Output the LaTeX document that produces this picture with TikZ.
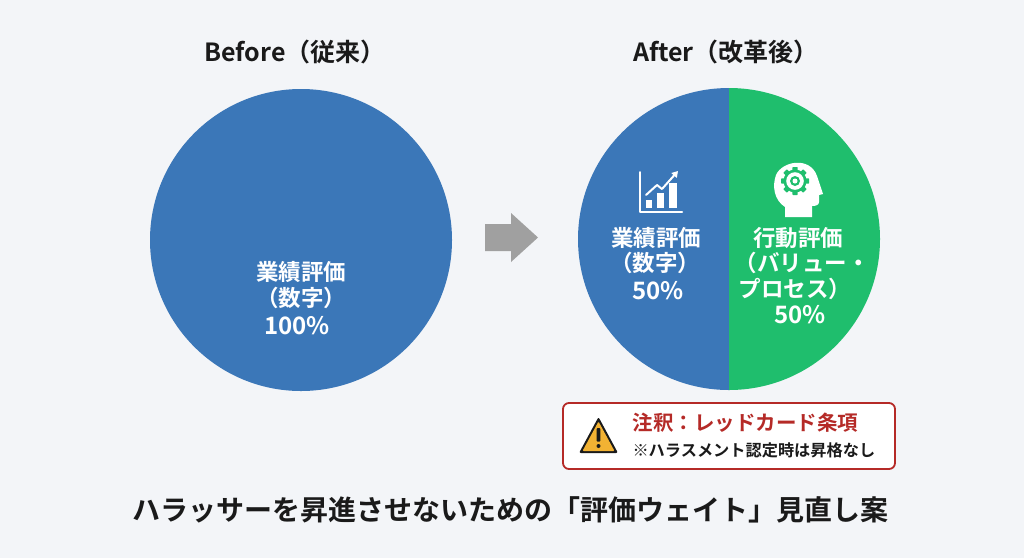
\documentclass[tikz,border=0pt]{standalone}
\usepackage{fontspec}
\setmainfont{Noto Sans CJK JP Bold}
\usetikzlibrary{arrows.meta}
\definecolor{bg}{HTML}{F3F5F8}
\definecolor{pblue}{HTML}{3B77B8}
\definecolor{pgreen}{HTML}{1FBE6D}
\definecolor{pred}{HTML}{B52A27}
\definecolor{pgray}{HTML}{A0A0A0}
\definecolor{warnyel}{HTML}{F2B233}
\definecolor{txt}{HTML}{1A1A1A}
\begin{document}
\begin{tikzpicture}[x=1pt,y=-1pt,
  title/.style={font=\fontsize{25}{29}\selectfont, text=txt},
  wtxt/.style={font=\fontsize{22.5}{26}\selectfont, text=white, align=center},
  pct/.style={font=\fontsize{24}{28}\selectfont, text=white},
  icon/.style={white, line width=2.2pt, line cap=round, line join=round}]
\useasboundingbox (0,0) rectangle (1024,558);
\fill[bg] (0,0) rectangle (1024,558);
% titles
\node[title] (tb) at (295,52) {Before（従来）};
\node[title] (ta) at (726,52) {After（改革後）};
% left circle
\fill[pblue] (301,240) circle[radius=151];
\node[wtxt] (l1) at (301,272) {業績評価};
\node[wtxt] (l2) at (301,298) {（数字）};
\node[pct] (l3) at (297,326) {100\%};
% arrow
\fill[pgray] (485,224) -- (511,224) -- (511,213) -- (538,237.5) -- (511,262) -- (511,251) -- (485,251) -- cycle;
% right circle
\begin{scope}
\clip (729,239) circle[radius=151];
\fill[pblue] (560,80) rectangle (729,400);
\fill[pgreen] (729,80) rectangle (900,400);
\end{scope}
\node[wtxt] (b1) at (656,238) {業績評価};
\node[wtxt] (b2) at (655,263) {（数字）};
\node[pct] (b3) at (658,291) {50\%};
\node[wtxt] (g1) at (798,238) {行動評価};
\node[wtxt] (g2) at (802,263) {（バリュー・};
\node[wtxt] (g3) at (795,289) {プロセス）};
\node[pct] (g4) at (800,315) {50\%};
% chart icon
\draw[icon, line width=2pt] (640,172) -- (640,212) -- (682,212);
\fill[white] (646,200) rectangle (652,208);
\fill[white] (657,193) rectangle (664,208);
\fill[white] (669,183) rectangle (677,208);
\draw[icon, line width=2pt, -{Triangle[length=6pt,width=7pt]}] (646,195) -- (657,185) -- (662,189) -- (678,171);
% head icon
\fill[white] (785,217) -- (785,207) .. controls (774,200) and (772,186) .. (776,175)
  .. controls (782,161) and (810,156) .. (817,176)
  -- (823,194) -- (819,195) -- (819,202)
  .. controls (819,205) and (816,206) .. (812,206) -- (812,217) -- cycle;
\begin{scope}[shift={(795,181)}]
\foreach \a in {0,45,...,315}
  \fill[pgreen, rotate=\a, rounded corners=0.6pt] (-2.6,-14) rectangle (2.6,-9);
\fill[pgreen] (0,0) circle[radius=11.5];
\fill[white] (0,0) circle[radius=8.8];
\fill[pgreen] (0,0) circle[radius=5];
\fill[white] (0,0) circle[radius=2.5];
\end{scope}
% warning box
\node[draw=pred, line width=1.8pt, fill=white, rounded corners=6pt, minimum width=332pt, minimum height=66pt] (wbox) at (729,436) {};
\fill[txt, rounded corners=2pt] (598.5,417) -- (618,453) -- (579,453) -- cycle;
\fill[warnyel, rounded corners=1pt] (598.5,421.5) -- (614.5,451) -- (582.5,451) -- cycle;
\fill[txt, rounded corners=0.8pt] (596.7,428) rectangle (600.3,441.5);
\fill[txt] (598.5,446) circle[radius=2];
\node[font=\fontsize{20.5}{24}\selectfont, text=pred, anchor=west] (w1) at (629,423) {注釈：レッドカード条項};
\node[font=\fontsize{16.2}{19}\selectfont, text=txt, anchor=west] (w2) at (629,450) {※ハラスメント認定時は昇格なし};
% bottom title
\node[font=\fontsize{28}{32}\selectfont, text=txt] (bt) at (510,510) {ハラッサーを昇進させないための「評価ウェイト」見直し案};
\end{tikzpicture}
\end{document}
